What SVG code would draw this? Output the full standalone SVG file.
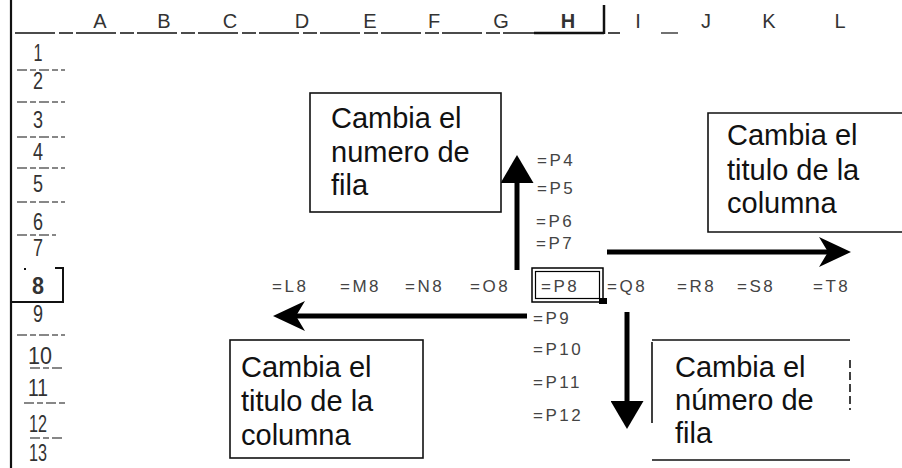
<svg xmlns="http://www.w3.org/2000/svg" width="902" height="468" viewBox="0 0 902 468">
<style>
.grid{stroke:#111;fill:none}
.hdr{font-family:"Liberation Sans",Arial,sans-serif;font-size:20px;fill:#333;text-anchor:middle}
.row{font-family:"Liberation Sans",Arial,sans-serif;font-size:24px;fill:#333;text-anchor:middle}
.cell{font-family:"Liberation Sans",Arial,sans-serif;font-size:17px;fill:#444;letter-spacing:2.5px}
.lbl{font-family:"Liberation Sans",Arial,sans-serif;font-size:29px;fill:#111}
.box{fill:none;stroke:#111;stroke-width:1.6}
.shaft{stroke:#000;stroke-width:5;fill:none}
</style>
<defs>
<marker id="tri" markerUnits="userSpaceOnUse" viewBox="0 0 28 33" markerWidth="28" markerHeight="33" refX="0" refY="16.5" orient="auto">
<path d="M0,0 L28,16.5 L0,33 Z" fill="#000"/>
</marker>
<marker id="stealth" markerUnits="userSpaceOnUse" viewBox="0 0 32 30" markerWidth="32" markerHeight="30" refX="9" refY="15" orient="auto">
<path d="M0,0 L32,15 L0,30 L9,15 Z" fill="#000"/>
</marker>
</defs>
<rect width="902" height="468" fill="#fff"/>

<g id="sheet-grid">
<line class="grid" x1="11" y1="0" x2="11" y2="468" stroke-width="2.2"/>
<line class="grid" x1="15" y1="33" x2="620" y2="33" stroke-width="1.3" stroke-dasharray="40,4,14,3"/>
<line class="grid" x1="534" y1="33" x2="604" y2="33" stroke-width="2.5"/>
<line class="grid" x1="604" y1="5" x2="604" y2="34" stroke-width="2.5"/>
<line class="grid" x1="661" y1="33" x2="678" y2="33" stroke-width="1.2"/>
<g stroke-width="1.2" stroke-dasharray="10,3,6,3">
<line class="grid" x1="17" y1="70" x2="65" y2="70"/>
<line class="grid" x1="17" y1="102" x2="65" y2="102"/>
<line class="grid" x1="17" y1="137" x2="65" y2="137"/>
<line class="grid" x1="17" y1="168" x2="65" y2="168"/>
<line class="grid" x1="17" y1="202" x2="65" y2="202"/>
<line class="grid" x1="17" y1="235" x2="56" y2="235"/>
<line class="grid" x1="17" y1="335" x2="65" y2="335"/>
<line class="grid" x1="30" y1="368" x2="63" y2="368"/>
<line class="grid" x1="24" y1="403" x2="65" y2="403"/>
<line class="grid" x1="30" y1="438" x2="62" y2="438"/>
</g>
<path class="grid" d="M25,270 L25,268 M55,268 L63,268 L63,302 L12,302" stroke-width="2"/>
</g>

<g id="column-headers">
<text class="hdr" x="100" y="28">A</text>
<text class="hdr" x="164" y="28">B</text>
<text class="hdr" x="230" y="28">C</text>
<text class="hdr" x="302" y="28">D</text>
<text class="hdr" x="370" y="28">E</text>
<text class="hdr" x="434" y="28">F</text>
<text class="hdr" x="501" y="28">G</text>
<text class="hdr" x="568" y="28" font-weight="bold" fill="#111">H</text>
<text class="hdr" x="638" y="28">I</text>
<text class="hdr" x="706" y="28">J</text>
<text class="hdr" x="769" y="28">K</text>
<text class="hdr" x="840" y="28">L</text>
</g>

<g id="row-headers">
<text class="row" x="38" y="61" textLength="9" lengthAdjust="spacingAndGlyphs">1</text>
<text class="row" x="38" y="89" textLength="10" lengthAdjust="spacingAndGlyphs">2</text>
<text class="row" x="38" y="128" textLength="10" lengthAdjust="spacingAndGlyphs">3</text>
<text class="row" x="38" y="160" textLength="10" lengthAdjust="spacingAndGlyphs">4</text>
<text class="row" x="38" y="192" textLength="10" lengthAdjust="spacingAndGlyphs">5</text>
<text class="row" x="38" y="230" textLength="10" lengthAdjust="spacingAndGlyphs">6</text>
<text class="row" x="38" y="256" textLength="10" lengthAdjust="spacingAndGlyphs">7</text>
<text class="row" x="38" y="294" font-weight="bold" fill="#111" textLength="12" lengthAdjust="spacingAndGlyphs">8</text>
<text class="row" x="38" y="322" textLength="10" lengthAdjust="spacingAndGlyphs">9</text>
<text class="row" x="40" y="364" textLength="24" lengthAdjust="spacingAndGlyphs">10</text>
<text class="row" x="38" y="396" textLength="20" lengthAdjust="spacingAndGlyphs">11</text>
<text class="row" x="38" y="432" textLength="18" lengthAdjust="spacingAndGlyphs">12</text>
<text class="row" x="38" y="461" font-size="22" textLength="18" lengthAdjust="spacingAndGlyphs">13</text>
</g>

<g id="cells">
<text class="cell" x="537" y="166">=P4</text>
<text class="cell" x="537" y="194">=P5</text>
<text class="cell" x="536" y="227">=P6</text>
<text class="cell" x="536" y="249">=P7</text>
<text class="cell" x="272" y="292">=L8</text>
<text class="cell" x="340" y="292">=M8</text>
<text class="cell" x="405" y="292">=N8</text>
<text class="cell" x="470" y="292">=O8</text>
<text class="cell" x="541" y="292">=P8</text>
<text class="cell" x="607" y="292">=Q8</text>
<text class="cell" x="677" y="292">=R8</text>
<text class="cell" x="737" y="292">=S8</text>
<text class="cell" x="813" y="292">=T8</text>
<text class="cell" x="533" y="324">=P9</text>
<text class="cell" x="533" y="355">=P10</text>
<text class="cell" x="533" y="388">=P11</text>
<text class="cell" x="533" y="421">=P12</text>
</g>

<g id="selected-cell">
<rect x="532" y="268" width="71" height="34" fill="none" stroke="#000" stroke-width="1.5"/>
<rect x="535.5" y="271.5" width="64" height="27" fill="none" stroke="#000" stroke-width="1.2"/>
<rect x="599" y="298" width="8" height="6" fill="#000"/>
</g>

<g id="connectors">
<line class="shaft" x1="517" y1="270" x2="517" y2="183" marker-end="url(#tri)"/>
<line class="shaft" x1="627" y1="312" x2="627" y2="401" marker-end="url(#tri)"/>
<line class="shaft" x1="607" y1="252" x2="828" y2="252" marker-end="url(#stealth)"/>
<line class="shaft" x1="527" y1="316" x2="296" y2="316" marker-end="url(#stealth)"/>
</g>

<g id="node-fila-arriba">
<rect class="box" x="310" y="93" width="191" height="119"/>
<text class="lbl" x="331" y="128">Cambia el</text>
<text class="lbl" x="331" y="162">numero de</text>
<text class="lbl" x="331" y="195">fila</text>
</g>

<g id="node-columna-derecha">
<path class="box" d="M902,113 L708,113 L708,232 L902,232"/>
<text class="lbl" x="727" y="145">Cambia el</text>
<text class="lbl" x="727" y="180">titulo de la</text>
<text class="lbl" x="727" y="213">columna</text>
</g>

<g id="node-columna-izquierda">
<rect class="box" x="230" y="340" width="193" height="118"/>
<text class="lbl" x="241" y="377">Cambia el</text>
<text class="lbl" x="241" y="411">titulo de la</text>
<text class="lbl" x="241" y="445">columna</text>
</g>

<g id="node-fila-abajo">
<path class="box" d="M652,423 L652,342 M652,340 L850,340 M652,460 L850,460"/>
<path class="box" d="M850,360 L850,410" stroke-dasharray="8,4"/>
<text class="lbl" x="675" y="377">Cambia el</text>
<text class="lbl" x="675" y="410">número de</text>
<text class="lbl" x="675" y="443">fila</text>
</g>
</svg>
